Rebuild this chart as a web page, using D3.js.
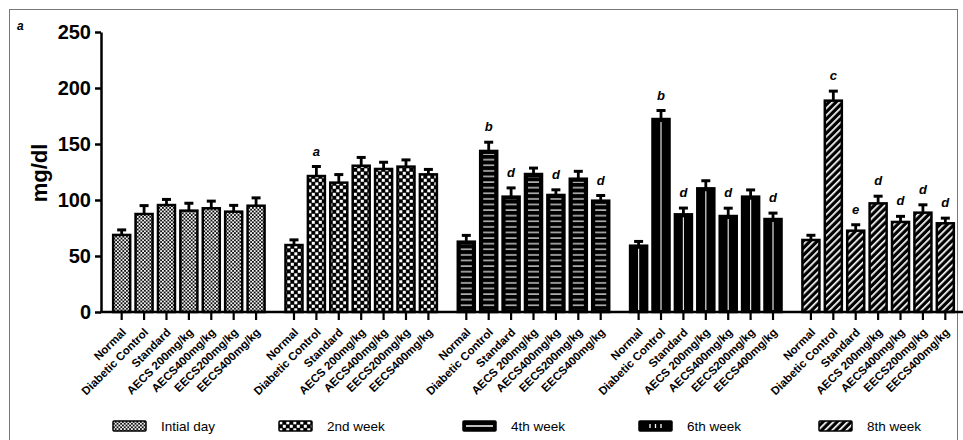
<!DOCTYPE html>
<html>
<head>
<meta charset="utf-8">
<script src="https://cdn.jsdelivr.net/npm/d3@7"></script>
<style>
  html, body { margin: 0; padding: 0; background: #fff; }
  svg { display: block; font-family: "Liberation Sans", Arial, sans-serif; }
</style>
</head>
<body>
<svg id="chart" width="963" height="440"></svg>
<script>
// Blood glucose (mg/dl) per treatment group over the study period
const weeks = ["Intial day", "2nd week", "4th week", "6th week", "8th week"];
const treatments = ["Normal", "Diabetic Control", "Standard", "AECS 200mg/kg",
                    "AECS400mg/kg", "EECS200mg/kg", "EECS400mg/kg"];

const initialDay = [68.8, 87.5, 95.5, 90.5, 92.6, 89.6, 94.9];
const week2      = [59.8, 121.4, 115.5, 130.6, 127.7, 129.8, 122.9];
const week4      = [62.8, 143.8, 103.0, 123.2, 104.5, 119.0, 99.4];
const week6      = [59.2, 172.3, 87.2, 110.4, 85.7, 103.0, 83.0];
const week8      = [64.3, 188.7, 72.6, 97.0, 80.4, 88.7, 79.2];

const errInitial = [4.5, 7.5, 5.0, 6.6, 6.4, 5.6, 7.0];
const errWeek2   = [4.6, 8.5, 7.2, 7.4, 6.0, 6.0, 4.4];
const errWeek4   = [5.6, 7.8, 7.8, 5.3, 4.6, 6.6, 4.6];
const errWeek6   = [3.8, 7.6, 5.6, 6.8, 7.0, 6.0, 5.3];
const errWeek8   = [4.2, 8.5, 5.3, 6.4, 5.0, 7.0, 4.6];

const sigWeek2 = ["", "a", "", "", "", "", ""];
const sigWeek4 = ["", "b", "d", "", "d", "", "d"];
const sigWeek6 = ["", "b", "d", "", "d", "", "d"];
const sigWeek8 = ["", "c", "e", "d", "d", "d", "d"];
const sigInitial = ["", "", "", "", "", "", ""];

const yTicks = [0, 50, 100, 150, 200, 250];

const seriesValues = [initialDay, week2, week4, week6, week8];
const seriesErrors = [errInitial, errWeek2, errWeek4, errWeek6, errWeek8];
const seriesSig    = [sigInitial, sigWeek2, sigWeek4, sigWeek6, sigWeek8];

const svg = d3.select("#chart");

// ---- fill patterns ----
const defs = svg.append("defs");

// fine checker (initial day)
let p = defs.append("pattern").attr("id", "pat0").attr("patternUnits", "userSpaceOnUse")
  .attr("width", 3.6).attr("height", 3.6);
p.append("rect").attr("width", 3.6).attr("height", 3.6).attr("fill", "#111");
p.append("rect").attr("width", 1.8).attr("height", 1.8).attr("fill", "#f4f4f4");
p.append("rect").attr("x", 1.8).attr("y", 1.8).attr("width", 1.8).attr("height", 1.8).attr("fill", "#f4f4f4");

// coarse checker (2nd week)
p = defs.append("pattern").attr("id", "pat1").attr("patternUnits", "userSpaceOnUse")
  .attr("width", 7).attr("height", 7);
p.append("rect").attr("width", 7).attr("height", 7).attr("fill", "#000");
p.append("rect").attr("x", 0.3).attr("y", 0.3).attr("width", 3).attr("height", 3).attr("fill", "#fff");
p.append("rect").attr("x", 3.8).attr("y", 3.8).attr("width", 3).attr("height", 3).attr("fill", "#fff");

// horizontal lines (4th week), drawn over a black bar
p = defs.append("pattern").attr("id", "pat2").attr("patternUnits", "userSpaceOnUse")
  .attr("width", 6).attr("height", 5.6);
p.append("rect").attr("width", 6).attr("height", 5.6).attr("fill", "#000");
p.append("rect").attr("y", 2.2).attr("width", 6).attr("height", 1.4).attr("fill", "#d0d0d0");

// diagonal hatch (8th week)
p = defs.append("pattern").attr("id", "pat4").attr("patternUnits", "userSpaceOnUse")
  .attr("width", 5).attr("height", 5).attr("patternTransform", "rotate(45)");
p.append("rect").attr("width", 5).attr("height", 5).attr("fill", "#000");
p.append("rect").attr("width", 1.7).attr("height", 5).attr("fill", "#fff");

const fills = ["url(#pat0)", "url(#pat1)", "#000", "#000", "url(#pat4)"];

// ---- scales ----
const y = d3.scaleLinear().domain([0, 250]).range([312, 32]);
const xGroup = d3.scaleBand().domain(weeks).range([101, 966])
  .paddingInner(0.09).paddingOuter(0.055);
const xBar = d3.scaleBand().domain(treatments).range([0, xGroup.bandwidth()])
  .paddingInner(0.24).paddingOuter(0.12);

// outer frame
svg.append("rect").attr("x", 9.5).attr("y", 9.5).attr("width", 948).attr("height", 445)
  .attr("fill", "none").attr("stroke", "#777").attr("stroke-width", 1);

svg.append("text").attr("x", 17).attr("y", 30)
  .attr("font-size", 12).attr("font-weight", "bold").attr("font-style", "italic")
  .text("a");

// ---- bars ----
const rows = [];
weeks.forEach((w, g) => treatments.forEach((t, i) => rows.push({
  week: w, g, t, i,
  v: seriesValues[g][i], e: seriesErrors[g][i], s: seriesSig[g][i]
})));

const cx = d => xGroup(d.week) + xBar(d.t) + xBar.bandwidth() / 2;
const bw = xBar.bandwidth();

const bars = svg.append("g").selectAll("g").data(rows).join("g");

// error bars (upper only)
bars.append("line")
  .attr("x1", cx).attr("x2", cx)
  .attr("y1", d => y(d.v)).attr("y2", d => y(d.v + d.e))
  .attr("stroke", "#000").attr("stroke-width", 2.8);
bars.append("line")
  .attr("x1", d => cx(d) - 4.5).attr("x2", d => cx(d) + 4.5)
  .attr("y1", d => y(d.v + d.e)).attr("y2", d => y(d.v + d.e))
  .attr("stroke", "#000").attr("stroke-width", 3);

bars.append("rect")
  .attr("x", d => cx(d) - bw / 2).attr("width", bw)
  .attr("y", d => y(d.v)).attr("height", d => y(0) - y(d.v))
  .attr("fill", d => fills[d.g])
  .attr("stroke", "#000").attr("stroke-width", 2.5);

// 4th week: inset horizontal lines
bars.filter(d => d.g === 2).append("rect")
  .attr("x", d => cx(d) - bw / 2 + 3).attr("width", bw - 6)
  .attr("y", d => y(d.v) + 3).attr("height", d => Math.max(0, y(0) - y(d.v) - 5))
  .attr("fill", "url(#pat2)");

// 6th week: single light centre line
bars.filter(d => d.g === 3).append("line")
  .attr("x1", cx).attr("x2", cx)
  .attr("y1", d => y(d.v) + 3).attr("y2", y(0) - 2)
  .attr("stroke", "#e0e0e0").attr("stroke-width", 1.2);

// significance letters
bars.filter(d => d.s).append("text")
  .attr("x", cx).attr("y", d => y(d.v + d.e) - 11)
  .attr("text-anchor", "middle")
  .attr("font-size", 13).attr("font-weight", "bold").attr("font-style", "italic")
  .text(d => d.s);

// ---- axes ----
const yAxis = d3.axisLeft(y).tickValues(yTicks).tickSize(6).tickSizeOuter(0).tickPadding(4);
const gy = svg.append("g").attr("transform", "translate(101,0)").call(yAxis);
gy.select(".domain").attr("stroke-width", 2.5);
gy.selectAll(".tick line").attr("stroke-width", 2.5);
gy.selectAll(".tick text").attr("font-size", 20).attr("font-weight", "bold")
  .attr("font-family", "Liberation Sans, Arial, sans-serif").attr("fill", "#000");

svg.append("line").attr("x1", 100).attr("x2", 963).attr("y1", y(0)).attr("y2", y(0))
  .attr("stroke", "#000").attr("stroke-width", 2.5);

const xt = svg.append("g").selectAll("g").data(rows).join("g")
  .attr("transform", d => `translate(${cx(d)},${y(0)})`);
xt.append("line").attr("y1", 0).attr("y2", 8).attr("stroke", "#000").attr("stroke-width", 2.2);
xt.append("text")
  .attr("transform", "translate(5,21) rotate(-45)")
  .attr("text-anchor", "end")
  .attr("font-size", 11.5).attr("font-weight", "bold")
  .text(d => d.t);

svg.append("text")
  .attr("transform", "translate(47,173) rotate(-90)")
  .attr("text-anchor", "middle")
  .attr("font-size", 22).attr("font-weight", "bold")
  .text("mg/dl");

// ---- legend ----
const legendX = [113, 279, 463, 639, 819];
const lg = svg.append("g").selectAll("g").data(weeks).join("g")
  .attr("transform", (d, i) => `translate(${legendX[i]},421)`);
lg.append("rect").attr("width", 33).attr("height", 10)
  .attr("fill", (d, i) => fills[i]).attr("stroke", "#000").attr("stroke-width", 1.5).attr("rx", 1);
lg.filter((d, i) => i === 2).append("line")
  .attr("x1", 3).attr("x2", 30).attr("y1", 5).attr("y2", 5)
  .attr("stroke", "#fff").attr("stroke-width", 1.5);
lg.filter((d, i) => i === 3).selectAll("line.v").data([11, 16.5, 22]).join("line")
  .attr("x1", v => v).attr("x2", v => v).attr("y1", 3).attr("y2", 7)
  .attr("stroke", "#fff").attr("stroke-width", 1.3);
lg.append("text").attr("x", 48).attr("y", 10)
  .attr("font-size", 13.5).text(d => d);
</script>
</body>
</html>
